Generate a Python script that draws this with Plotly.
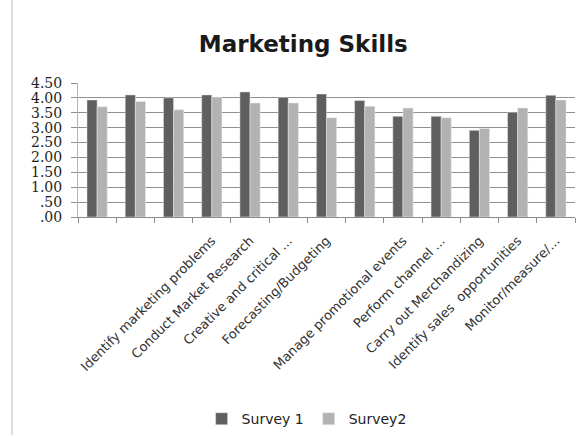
import plotly.graph_objects as go

categories = ["", "", "", "Identify marketing problems", "Conduct Market Research",
              "Creative and critical ...", "Forecasting/Budgeting", "",
              "Manage promotional events", "Perform channel ...", "Carry out Merchandizing",
              "Identify sales  opportunities", "Monitor/measure/..."]
survey1 = [3.93, 4.10, 4.00, 4.10, 4.20, 4.02, 4.13, 3.91, 3.38, 3.38, 2.91, 3.52, 4.09]
survey2 = [3.70, 3.88, 3.60, 4.02, 3.83, 3.83, 3.33, 3.72, 3.66, 3.33, 2.97, 3.66, 3.93]
y_ticks = [0, 0.5, 1, 1.5, 2, 2.5, 3, 3.5, 4, 4.5]
y_tick_text = [".00", ".50", "1.00", "1.50", "2.00", "2.50", "3.00", "3.50", "4.00", "4.50"]

xpos = list(range(len(categories)))

fig = go.Figure()
fig.add_trace(go.Bar(x=xpos, y=survey1, name="Survey 1", marker_color="#5f5f5f"))
fig.add_trace(go.Bar(x=xpos, y=survey2, name="Survey2", marker_color="#b2b2b2"))

fig.update_layout(
    width=581, height=438,
    margin=dict(l=78, r=6, t=83, b=220),
    paper_bgcolor="white", plot_bgcolor="white",
    barmode="group", bargap=0.47, bargroupgap=0,
    font=dict(family="DejaVu Sans", color="#333333"),
    title=dict(text="<b>Marketing Skills</b>", x=0.522, xref="container", xanchor="center",
               y=0.9, yanchor="middle",
               font=dict(family="DejaVu Sans", size=23, color="#1a1a1a")),
    showlegend=True,
    legend=dict(orientation="h", x=0.46, xanchor="center", y=-1.49, yanchor="middle",
                font=dict(family="DejaVu Sans", size=14, color="#222222"),
                itemwidth=30, traceorder="normal"),
    xaxis=dict(range=[-0.5, len(categories) - 0.5], tickmode="array", tickvals=xpos,
               ticktext=categories, tickangle=-45, ticks="", showgrid=False,
               showline=True, linecolor="#8a8a8a", linewidth=1,
               ticklabelstandoff=10,
               tickfont=dict(family="DejaVu Sans", size=13, color="#333333"),
               minor=dict(tickmode="array",
                          tickvals=[i - 0.5 for i in range(len(categories) + 1)],
                          ticks="outside", ticklen=5, tickcolor="#8a8a8a", showgrid=False)),
    yaxis=dict(range=[0, 4.5], tickmode="array", tickvals=y_ticks, ticktext=y_tick_text,
               showgrid=True, gridcolor="#8f8f8f", gridwidth=1, zeroline=False,
               showline=True, linecolor="#b5b5b5", linewidth=1,
               ticks="outside", ticklen=6, tickcolor="#8f8f8f",
               ticklabelstandoff=6,
               tickfont=dict(family="DejaVu Serif", size=14, color="#1e1e1e")),
    shapes=[dict(type="line", xref="paper", yref="paper",
                 x0=-0.1328, x1=-0.1328, y0=-1.63, y1=1.62,
                 line=dict(color="#bdbdbd", width=1))],
)

fig.write_html("out.html")
